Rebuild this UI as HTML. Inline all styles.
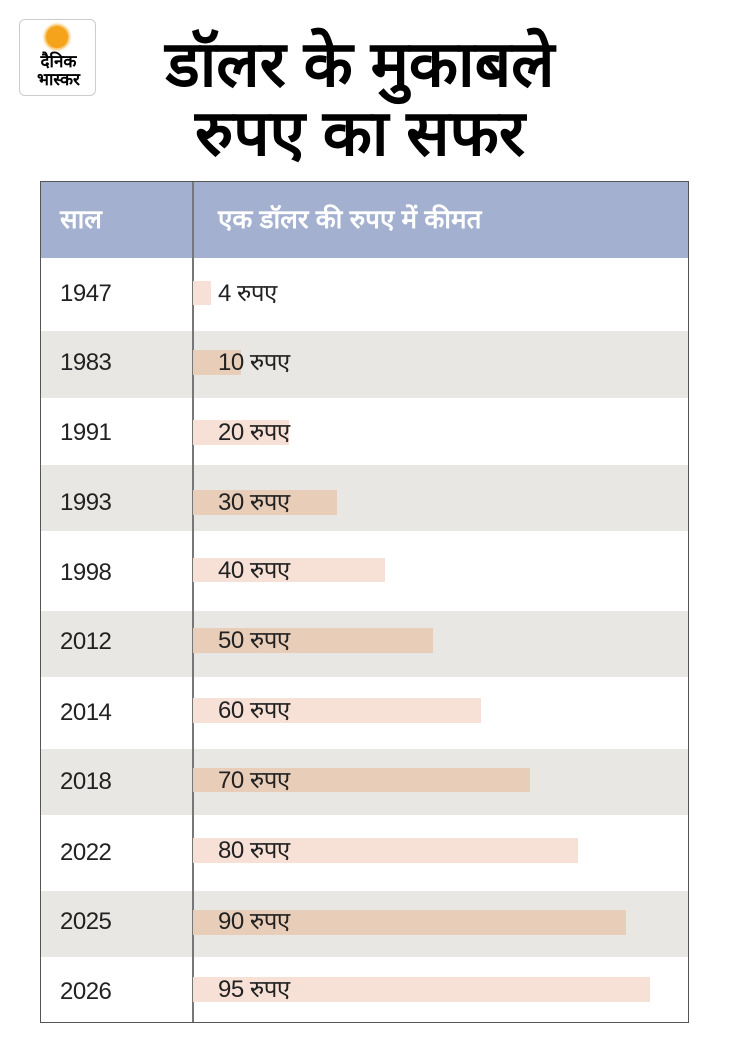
<!DOCTYPE html>
<html><head><meta charset="utf-8"><style>
body{margin:0;width:730px;height:1046px;background:#fff;position:relative;overflow:hidden;font-family:"Liberation Sans","Noto Sans CJK SC",sans-serif;}
.a{position:absolute}
.t{font-weight:bold;color:#000;font-size:64px;text-align:center;width:730px;left:-5px}
.yr{position:absolute;left:60px;font-size:24px;color:#222;line-height:25px;letter-spacing:-0.5px}
.v{position:absolute;left:218px;font-size:24px;color:#222;line-height:25px;letter-spacing:-0.5px}
</style></head><body>
<div class="a" style="left:19px;top:19px;width:77px;height:77px;border:1px solid #ccc;border-radius:6px;box-sizing:border-box;text-align:center">
<div class="a" style="left:26px;top:6px;width:22px;height:22px;border-radius:50%;background:#f5a31a;box-shadow:0 0 2px 2px #f8c060"></div>
<div class="a" style="left:0;top:33px;width:77px;font-size:17px;font-weight:bold;line-height:18px">दैनिक<br>भास्कर</div>
</div>
<div class="a t" style="top:28px;line-height:72px">डॉलर के मुकाबले</div>
<div class="a t" style="top:97px;line-height:72px">रुपए का सफर</div>
<div class="a" style="left:40px;top:181px;width:649px;height:842px;border:1px solid #555;box-sizing:border-box;overflow:hidden">
<div class="a" style="left:0;top:0;width:649px;height:76px;background:#a3b0cf"></div>
<div class="a" style="left:0;top:149px;width:649px;height:67px;background:#e9e7e3"></div>
<div class="a" style="left:0;top:283px;width:649px;height:66px;background:#e9e7e3"></div>
<div class="a" style="left:0;top:429px;width:649px;height:66px;background:#e9e7e3"></div>
<div class="a" style="left:0;top:567px;width:649px;height:66px;background:#e9e7e3"></div>
<div class="a" style="left:0;top:709px;width:649px;height:66px;background:#e9e7e3"></div>
<div class="a" style="left:151px;top:0;width:2px;height:842px;background:#777"></div>
</div>
<div class="a" style="left:60px;top:204px;font-size:26px;font-weight:bold;color:#fff;line-height:30px">साल</div>
<div class="a" style="left:218px;top:204px;font-size:26px;font-weight:bold;color:#fff;line-height:30px">एक डॉलर की रुपए में कीमत</div>

<div class="a" style="left:193px;top:281px;width:18px;height:24px;background:#f7e0d6"></div>
<div class="a" style="left:193px;top:350px;width:48px;height:25px;background:#e8cdb9"></div>
<div class="a" style="left:193px;top:420px;width:96px;height:25px;background:#f7e0d6"></div>
<div class="a" style="left:193px;top:490px;width:144px;height:25px;background:#e8cdb9"></div>
<div class="a" style="left:193px;top:558px;width:192px;height:24px;background:#f7e0d6"></div>
<div class="a" style="left:193px;top:628px;width:240px;height:25px;background:#e8cdb9"></div>
<div class="a" style="left:193px;top:698px;width:288px;height:25px;background:#f7e0d6"></div>
<div class="a" style="left:193px;top:768px;width:337px;height:24px;background:#e8cdb9"></div>
<div class="a" style="left:193px;top:838px;width:385px;height:25px;background:#f7e0d6"></div>
<div class="a" style="left:193px;top:910px;width:433px;height:25px;background:#e8cdb9"></div>
<div class="a" style="left:193px;top:977px;width:457px;height:25px;background:#f7e0d6"></div>

<div class="yr" style="top:281px">1947</div><div class="v" style="top:281px">4 रुपए</div>
<div class="yr" style="top:350px">1983</div><div class="v" style="top:350px">10 रुपए</div>
<div class="yr" style="top:420px">1991</div><div class="v" style="top:420px">20 रुपए</div>
<div class="yr" style="top:490px">1993</div><div class="v" style="top:490px">30 रुपए</div>
<div class="yr" style="top:560px">1998</div><div class="v" style="top:558px">40 रुपए</div>
<div class="yr" style="top:629px">2012</div><div class="v" style="top:628px">50 रुपए</div>
<div class="yr" style="top:700px">2014</div><div class="v" style="top:698px">60 रुपए</div>
<div class="yr" style="top:769px">2018</div><div class="v" style="top:768px">70 रुपए</div>
<div class="yr" style="top:840px">2022</div><div class="v" style="top:838px">80 रुपए</div>
<div class="yr" style="top:909px">2025</div><div class="v" style="top:909px">90 रुपए</div>
<div class="yr" style="top:979px">2026</div><div class="v" style="top:977px">95 रुपए</div>
</body></html>
